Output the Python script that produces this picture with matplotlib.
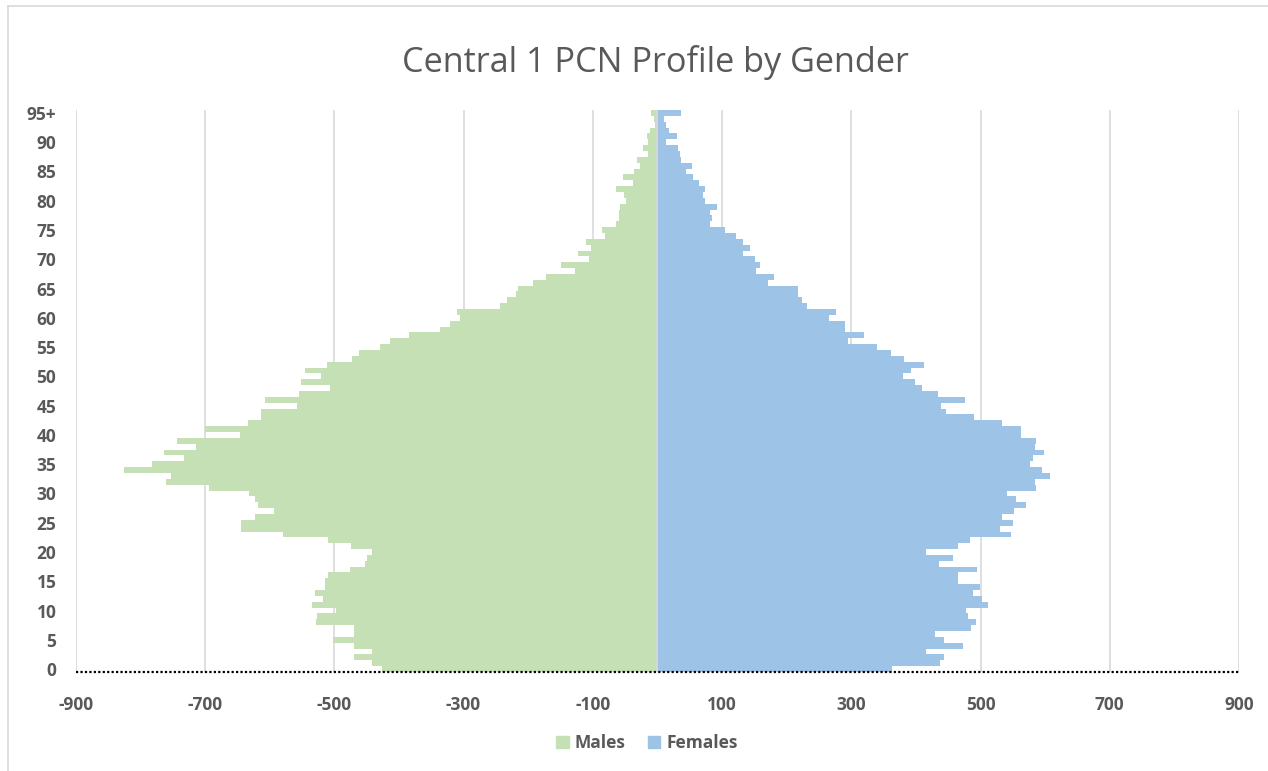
import numpy as np
import matplotlib
matplotlib.use("Agg")
import matplotlib.pyplot as plt
from matplotlib.patches import Patch
from matplotlib.lines import Line2D

GREEN = "#c5e0b4"
BLUE = "#9dc3e6"
GREY_TXT = "#595959"
GRID = "#d9d9d9"

# ages 0..95+ (one value per single year of age)
age_labels = [str(a) for a in range(95)] + ["95+"]
males = [426, 441, 469, 441, 470, 502, 470, 470, 528, 527,
         497, 534, 517, 530, 514, 515, 509, 476, 452, 450,
         441, 474, 509, 579, 645, 644, 622, 594, 618, 622,
         632, 694, 760, 753, 825, 782, 732, 764, 714, 743,
         646, 700, 634, 613, 613, 557, 607, 555, 506, 552,
         520, 545, 512, 472, 461, 430, 414, 384, 336, 321,
         305, 310, 244, 233, 219, 216, 193, 173, 127, 149,
         106, 123, 102, 110, 81, 85, 64, 59, 59, 58,
         48, 51, 64, 37, 53, 36, 27, 31, 15, 23,
         15, 16, 11, 4, 5, 10]
females = [363, 437, 443, 416, 473, 443, 429, 485, 493, 480,
           477, 511, 503, 488, 499, 465, 465, 495, 436, 457,
           416, 465, 483, 547, 530, 550, 533, 552, 571, 555,
           541, 586, 584, 608, 595, 577, 581, 599, 584, 586,
           563, 563, 533, 490, 447, 439, 476, 434, 410, 399,
           380, 392, 412, 381, 361, 340, 295, 320, 290, 290,
           265, 277, 232, 224, 218, 218, 171, 181, 152, 158,
           151, 133, 143, 133, 121, 105, 82, 84, 82, 92,
           73, 71, 73, 65, 55, 45, 54, 36, 35, 32,
           14, 31, 18, 13, 10, 36]
x_ticks = list(range(-900, 901, 200))

plt.rcParams.update({"font.family": ["Open Sans", "DejaVu Sans"]})

W, H = 1268, 771
fig = plt.figure(figsize=(W / 100, H / 100), dpi=100)
ax = fig.add_axes([75.8 / W, 1 - 672 / H, (1239 - 75.8) / W, (672 - 110) / H])

pos = np.arange(len(age_labels))
ax.barh(pos, -np.array(males), height=1.0, color=GREEN, linewidth=0, zorder=2, label="Males")
ax.barh(pos, females, height=1.0, color=BLUE, linewidth=0, zorder=2, label="Females")
ax.axvline(0, color=GRID, lw=1.2, zorder=3)

ax.set_xlim(-900, 900)
ax.set_ylim(-0.5, len(age_labels) - 0.5)
ax.set_xticks(x_ticks)
ax.set_xticklabels([str(t) for t in x_ticks])
ax.set_yticks(pos[::5])
ax.set_yticklabels([age_labels[i] for i in pos[::5]])
ax.tick_params(axis="both", length=0, colors=GREY_TXT, labelsize=12.5)
ax.tick_params(axis="y", pad=14)
ax.tick_params(axis="x", pad=17)
for lab in ax.get_xticklabels() + ax.get_yticklabels():
    lab.set_fontweight("bold")

for t in x_ticks:
    ax.axvline(t, color=GRID, lw=1.2, zorder=1)
for s in ax.spines.values():
    s.set_visible(False)
ax.axhline(-0.5, color="black", lw=1.6, linestyle=(0, (1, 1)), zorder=4, clip_on=False)

fig.text(0.5 * (398 + 912) / W, 1 - 62 / H, "Central 1 PCN Profile by Gender",
         ha="center", va="center", fontsize=24.7, color=GREY_TXT)

handles = [Patch(color=GREEN, label="Males"), Patch(color=BLUE, label="Females")]
leg = fig.legend(handles=handles, loc="center", bbox_to_anchor=(647 / W, 1 - 743 / H),
                 ncol=2, frameon=False, handlelength=0.7, handleheight=0.7,
                 handletextpad=0.35, columnspacing=1.3, fontsize=12.5)
for txt in leg.get_texts():
    txt.set_color(GREY_TXT)
    txt.set_fontweight("bold")

# chart-area frame: only the top and left edges fall inside the picture
fig.lines.append(Line2D([8 / W, 1], [1 - 6 / H, 1 - 6 / H], transform=fig.transFigure,
                        color=GRID, lw=1.2))
fig.lines.append(Line2D([8 / W, 8 / W], [0, 1 - 6 / H], transform=fig.transFigure,
                        color=GRID, lw=1.2))

fig.savefig("out.png", dpi=100)
